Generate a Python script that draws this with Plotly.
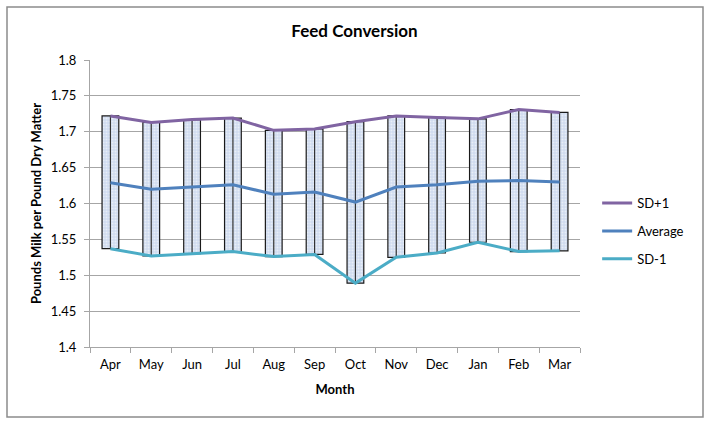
import plotly.graph_objects as go

months = ["Apr", "May", "Jun", "Jul", "Aug", "Sep", "Oct", "Nov", "Dec", "Jan", "Feb", "Mar"]
sd_plus = [1.722, 1.713, 1.717, 1.719, 1.702, 1.704, 1.714, 1.722, 1.720, 1.718, 1.731, 1.727]
average = [1.629, 1.620, 1.623, 1.626, 1.613, 1.616, 1.602, 1.623, 1.626, 1.631, 1.632, 1.630]
sd_minus = [1.537, 1.527, 1.530, 1.533, 1.526, 1.529, 1.489, 1.525, 1.531, 1.546, 1.533, 1.534]
y_ticks = [1.4, 1.45, 1.5, 1.55, 1.6, 1.65, 1.7, 1.75, 1.8]

FONT = "Lato"

fig = go.Figure()

# up/down bars spanning SD-1 .. SD+1
fig.add_trace(go.Bar(
    x=months,
    y=[h - l for h, l in zip(sd_plus, sd_minus)],
    base=sd_minus,
    width=0.41,
    marker=dict(
        color="#dce6f2",
        line=dict(color="#1a1a1a", width=1.2),
        pattern=dict(shape=".", fgcolor="#ffffff", bgcolor="#d0dcef", size=3, solidity=0.35),
    ),
    showlegend=False,
    hoverinfo="skip",
))

# high-low lines
hx, hy = [], []
for m, h, l in zip(months, sd_plus, sd_minus):
    hx += [m, m, None]
    hy += [l, h, None]
fig.add_trace(go.Scatter(
    x=hx, y=hy, mode="lines",
    line=dict(color="#333333", width=1.2),
    showlegend=False, hoverinfo="skip",
))

fig.add_trace(go.Scatter(x=months, y=sd_plus, mode="lines", name="SD+1", legendgroup="a",
                         line=dict(color="#8064a2", width=3)))
fig.add_trace(go.Scatter(x=months, y=average, mode="lines", name="Average", legendgroup="b",
                         line=dict(color="#4f81bd", width=3)))
fig.add_trace(go.Scatter(x=months, y=sd_minus, mode="lines", name="SD-1", legendgroup="c",
                         line=dict(color="#4bacc6", width=3)))

fig.update_layout(
    width=712, height=425,
    margin=dict(l=90, r=132, t=60, b=78),
    paper_bgcolor="white", plot_bgcolor="white",
    font=dict(family=FONT, size=13, color="#000000"),
    title=dict(text="<b>Feed Conversion</b>", x=354.5 / 712, xref="container", xanchor="center",
               y=1 - 31 / 425, yref="container", yanchor="middle",
               font=dict(family=FONT, size=17, color="#000000")),
    showlegend=True,
    legend=dict(x=1.035, xanchor="left", y=0.404, yanchor="middle",
                font=dict(family=FONT, size=13), tracegroupgap=8, itemwidth=30,
                bgcolor="rgba(0,0,0,0)"),
    xaxis=dict(
        type="category", categoryorder="array", categoryarray=months,
        showgrid=False, showline=True, linecolor="#a6a6a6", linewidth=1,
        ticks="outside", ticklen=5, tickcolor="#a6a6a6", tickson="boundaries",
        tickfont=dict(family=FONT, size=13), ticklabelstandoff=5,
        title=dict(text="<b>Month</b>", font=dict(family=FONT, size=13), standoff=14),
        range=[-0.5, 11.5],
    ),
    yaxis=dict(
        range=[1.4, 1.8], tickvals=y_ticks, ticktext=[f"{v:g}" for v in y_ticks],
        showgrid=True, gridcolor="#a6a6a6", gridwidth=1,
        showline=True, linecolor="#a6a6a6", linewidth=1,
        ticks="outside", ticklen=5, tickcolor="#a6a6a6",
        tickfont=dict(family=FONT, size=13), ticklabelstandoff=5,
        title=dict(text="<b>Pounds Milk per Pound Dry Matter</b>", font=dict(family=FONT, size=13), standoff=6),
        zeroline=False,
    ),
    shapes=[dict(type="rect", xref="paper", yref="paper",
                 x0=(7 - 90) / 490, x1=(703 - 90) / 490,
                 y0=(347 - 417) / 287, y1=(347 - 7) / 287,
                 line=dict(color="#8c8c8c", width=1.5), fillcolor="rgba(0,0,0,0)", layer="below")],
)

fig.write_html("out.html", config={"displayModeBar": False},
               post_script="document.body.style.margin='0px';")
